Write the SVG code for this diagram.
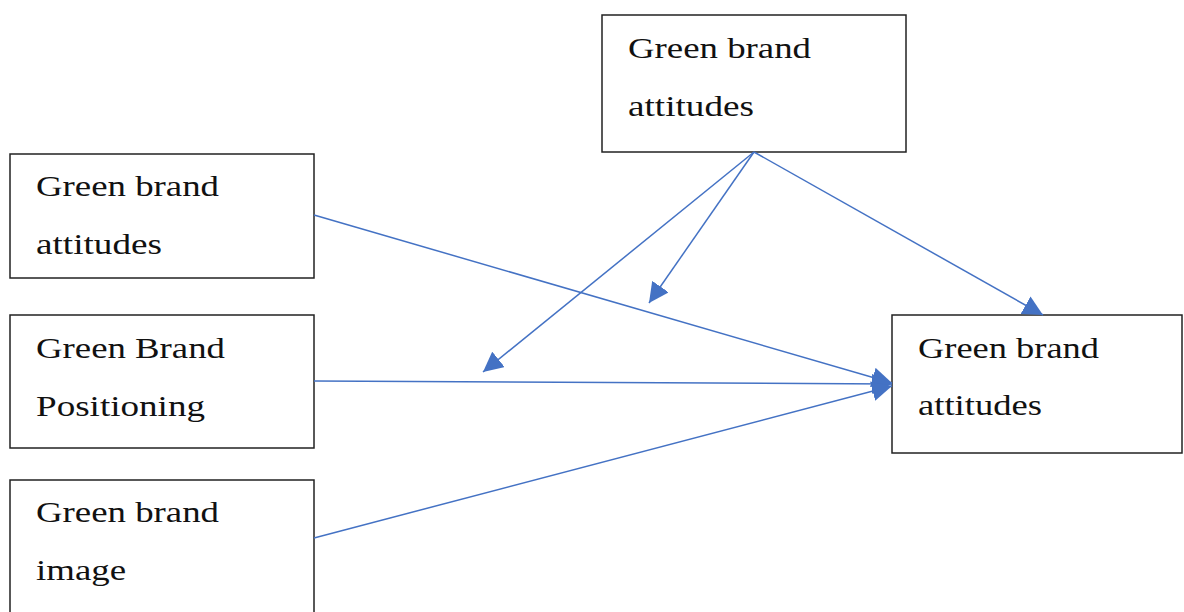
<svg xmlns="http://www.w3.org/2000/svg" width="1184" height="612" viewBox="0 0 1184 612">
<style>
.box{fill:#fff;stroke:#222;stroke-width:1.5}
.t{font-family:"Liberation Serif","Times New Roman",serif;font-size:30px;fill:#111}
.c{stroke:#4472C4;stroke-width:1.5;fill:none}
</style>
<defs>
<marker id="ah" markerUnits="userSpaceOnUse" markerWidth="22" markerHeight="20" refX="20" refY="10" orient="auto">
<path d="M0,0 L20,10 L0,20 Z" fill="#4472C4"/>
</marker>
</defs>
<rect width="1184" height="612" fill="#fff"/>
<g id="n-top">
<rect class="box" x="602" y="15" width="304" height="137"/>
<text class="t" x="628" y="58" textLength="183" lengthAdjust="spacingAndGlyphs">Green brand</text>
<text class="t" x="628" y="116" textLength="126" lengthAdjust="spacingAndGlyphs">attitudes</text>
</g>
<g id="n-left1">
<rect class="box" x="10" y="154" width="304" height="124"/>
<text class="t" x="36" y="196" textLength="183" lengthAdjust="spacingAndGlyphs">Green brand</text>
<text class="t" x="36" y="254" textLength="126" lengthAdjust="spacingAndGlyphs">attitudes</text>
</g>
<g id="n-left2">
<rect class="box" x="10" y="315" width="304" height="133"/>
<text class="t" x="36" y="358" textLength="189" lengthAdjust="spacingAndGlyphs">Green Brand</text>
<text class="t" x="36" y="416" textLength="169" lengthAdjust="spacingAndGlyphs">Positioning</text>
</g>
<g id="n-left3">
<rect class="box" x="10" y="480" width="304" height="140"/>
<text class="t" x="36" y="522" textLength="183" lengthAdjust="spacingAndGlyphs">Green brand</text>
<text class="t" x="36" y="580" textLength="90" lengthAdjust="spacingAndGlyphs">image</text>
</g>
<g id="n-right">
<rect class="box" x="892" y="315" width="290" height="138"/>
<text class="t" x="918" y="358" textLength="181" lengthAdjust="spacingAndGlyphs">Green brand</text>
<text class="t" x="918" y="415" textLength="124" lengthAdjust="spacingAndGlyphs">attitudes</text>
</g>
<g id="connectors">
<line class="c" x1="314" y1="215" x2="892" y2="383" marker-end="url(#ah)"/>
<line class="c" x1="314" y1="381" x2="892" y2="384" marker-end="url(#ah)"/>
<line class="c" x1="314" y1="538" x2="892" y2="386" marker-end="url(#ah)"/>
<line class="c" x1="754" y1="152" x2="1043" y2="315" marker-end="url(#ah)"/>
<line class="c" x1="754" y1="152" x2="649" y2="303" marker-end="url(#ah)"/>
<line class="c" x1="754" y1="152" x2="483" y2="372" marker-end="url(#ah)"/>
</g>
</svg>
